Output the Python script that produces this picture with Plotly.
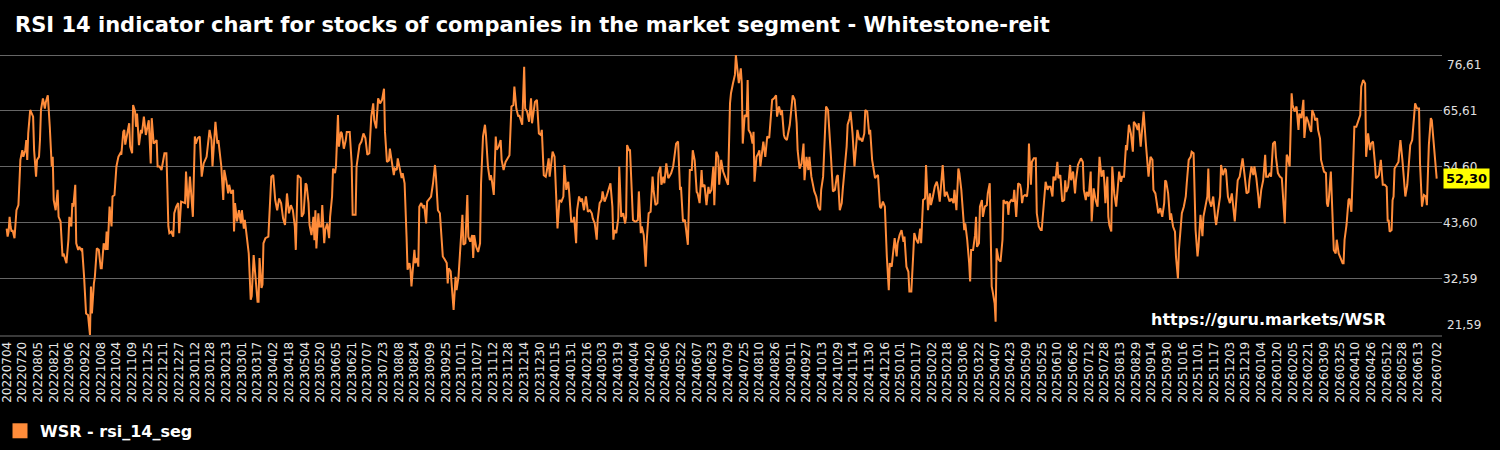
import pandas as pd
import plotly.graph_objects as go

start_date = "2022-07-04"
series_name = "WSR - rsi_14_seg"
title_text = "RSI 14 indicator chart for stocks of companies in the market segment - Whitestone-reit"
watermark = "https://guru.markets/WSR"

# days since start_date and RSI values
days_since_start = [
    0, 1, 2, 3, 4, 5, 6, 8, 10, 12, 13, 14, 16, 17, 19, 20, 21, 22, 24, 26, 27, 28, 30, 31, 33, 34, 35, 37, 39, 40,
    42, 44, 46, 47, 48, 50, 52, 53, 55, 57, 58, 61, 63, 64, 66, 67, 68, 70, 71, 73, 74, 76, 77, 79, 81, 83, 85, 86,
    87, 89, 90, 92, 94, 96, 97, 99, 101, 102, 103, 105, 107, 108, 110, 112, 114, 116, 117, 119, 120, 121, 123, 125,
    126, 128, 129, 131, 132, 133, 135, 137, 138, 140, 142, 143, 145, 147,
    148, 150, 153, 154, 156, 158, 159, 161, 163, 165, 166, 168, 170, 171, 173, 175, 176, 178, 182, 183, 185, 187,
    188, 190, 192, 193, 195, 197, 199, 201, 204, 207, 209, 210, 213, 215, 216, 219, 221, 222, 224, 226, 227, 229,
    231, 232, 233, 235, 237, 239, 240, 242, 243, 245, 247, 249, 250, 252, 254, 256, 257, 258, 260, 261, 262, 264,
    267, 268, 270, 272, 274, 276, 278, 280, 282, 284, 286, 288, 290, 292, 294, 295,
    297, 300, 301, 303, 305, 306, 308, 309, 311, 313, 314, 315, 316, 318, 319, 321, 322, 324, 325, 327, 329, 330,
    332, 333, 335, 336, 338, 339, 341, 342, 344, 346, 347, 350, 352, 353, 356, 357, 359, 360, 362, 364, 366, 368,
    370, 372, 374, 375, 377, 379, 381, 383, 385, 386, 388, 390, 391, 393, 395, 396, 398, 399, 401, 403, 404, 406,
    408, 409, 411, 412, 413, 415, 416, 417, 419, 420, 421, 423, 425, 426, 428, 429, 432, 433, 435, 437, 438, 440, 442,
    445, 447, 449, 450, 451, 453, 454, 456, 458, 459, 461, 463, 465, 466, 468, 470, 471, 473, 475, 476, 477, 479,
    481, 483, 484, 486, 488, 489, 491, 493, 494, 495, 497, 499, 500, 502, 504, 505, 507, 509, 511, 513, 515, 517,
    518, 520, 522, 523, 526, 528, 529, 531, 533, 535, 536, 538, 539, 541, 543, 545, 546, 548, 550, 551, 553, 554,
    556, 557, 559, 560, 562, 564, 566, 568, 569, 571, 573, 574, 576, 578, 579, 581, 582, 584, 586, 587, 589, 591,
    592, 593, 595, 597, 598, 600, 602, 603, 605, 607, 608, 610, 612, 614, 616, 618, 619, 620, 622, 624, 625, 627,
    629, 631, 632, 633, 635, 636, 638, 639, 641, 642, 644, 645, 647, 648, 650, 652, 653, 655, 657, 659, 660, 662,
    664, 665, 667, 668, 670, 671, 673, 675, 676, 678, 680, 682, 683, 685, 687, 688, 690, 692, 693, 695, 697, 699,
    700, 702, 704, 705, 707, 709, 710, 712, 714, 716, 717, 719, 721, 722, 724, 726, 727, 729, 731, 733, 734, 736,
    738, 739,
    741, 743, 744, 746, 747, 749, 750, 751, 753, 755, 756, 757, 759, 761, 762, 763, 765, 767, 768, 769, 771, 772,
    774, 776, 778, 779, 781, 783, 785, 786, 788, 790, 791, 793, 794, 796, 797, 799, 801, 802, 804, 806, 807, 809,
    811, 813, 814, 816, 818, 819, 821, 823, 824, 826, 828, 830, 831, 833, 835, 836, 838, 840, 841, 843, 845, 847,
    848, 850, 852, 853, 855, 857, 858, 860, 861, 863, 865, 866, 868, 870, 871, 873, 875, 876, 878, 880, 881, 883,
    885, 886,
    887, 889, 891, 892, 894, 896, 898, 899, 900, 901, 903, 904, 906, 908, 909, 911, 913, 915, 916, 918, 920, 921,
    923, 925, 926, 928, 930, 932, 933, 935, 937, 938, 940, 942, 943, 945, 947, 949, 950, 952, 954, 955, 957, 959,
    960, 962, 964, 966, 967, 969, 971, 972, 974, 976, 977, 978, 980, 982, 983, 984, 986, 988, 989, 990, 992, 993,
    995, 996, 998, 1000, 1001, 1003, 1005, 1006, 1008, 1009, 1010, 1012, 1014, 1016, 1017, 1019, 1021, 1022, 1023,
    1025, 1027, 1028, 1030, 1032, 1034, 1035,
    1036, 1037, 1039, 1041, 1042, 1043, 1045, 1046, 1048, 1050, 1051, 1053, 1055, 1056, 1058, 1060, 1062, 1063,
    1065, 1067, 1068, 1070, 1072, 1073, 1075, 1077, 1079, 1080, 1081, 1083, 1085, 1086, 1088, 1090, 1091, 1093,
    1096, 1098, 1099, 1101, 1102, 1104, 1106, 1107, 1109, 1111, 1113, 1114, 1115, 1117, 1119, 1120, 1121, 1123,
    1124, 1125, 1127, 1128, 1130, 1132, 1133, 1135, 1137, 1138, 1140, 1142, 1143, 1145, 1147, 1149, 1150, 1152,
    1154, 1155, 1157, 1159, 1160, 1162, 1164, 1165, 1167, 1169, 1170, 1172, 1174, 1175, 1177, 1179, 1181, 1182,
    1183, 1185, 1187, 1188, 1190, 1192, 1193, 1195, 1196, 1198, 1199, 1201, 1203, 1204, 1206, 1208, 1209, 1211,
    1213, 1215, 1216, 1218, 1220, 1221, 1223, 1225, 1226, 1227, 1229, 1231, 1233, 1234, 1236, 1238, 1239, 1241,
    1243, 1244, 1246, 1248, 1250, 1251, 1253, 1255, 1256, 1258, 1260, 1261, 1263, 1265, 1267, 1268, 1270, 1272,
    1273, 1275, 1277, 1278, 1280, 1282, 1284, 1285, 1287, 1289, 1290, 1292, 1294, 1295, 1297, 1299, 1301, 1302,
    1304, 1306, 1307, 1309, 1311, 1312, 1314, 1316, 1318, 1319, 1321, 1323, 1324, 1326, 1328, 1330, 1331,
    1332, 1334, 1335, 1337, 1338, 1340, 1341, 1342, 1344, 1346, 1347, 1348, 1349, 1351, 1352, 1354, 1356, 1357,
    1359, 1361, 1363, 1364, 1365, 1367, 1369, 1370, 1372, 1374, 1375, 1377, 1379, 1381, 1382, 1384, 1386, 1387,
    1389, 1391, 1392, 1394, 1396, 1397, 1399, 1400, 1402, 1403, 1404, 1406, 1408, 1409, 1410, 1411, 1413, 1414,
    1415, 1416, 1418, 1420, 1421, 1422, 1424, 1425, 1427, 1429, 1431, 1432, 1434, 1436, 1437, 1439, 1441, 1442,
    1444, 1446, 1448, 1449, 1451, 1453, 1454, 1456, 1459,
]

rsi_values = [
    42.5, 40.9, 41.9, 44.8, 42.9, 41.9, 42.2, 40.6, 46.1, 47.1, 51.4, 56.0, 57.9, 56.6, 57.9, 59.9, 56.0, 61.2, 65.8,
    64.8, 64.5, 57.9, 52.7, 56.0, 56.6, 59.9, 65.8, 68.1, 66.1, 67.4, 68.7, 62.5, 54.7, 56.6, 48.1, 46.1, 50.1,
    44.8, 43.9, 37.0, 37.6, 35.7, 40.3, 44.8, 42.9, 47.5, 46.8, 51.1, 39.6, 38.3, 38.9, 38.3, 38.6, 33.0, 25.8,
    25.5, 21.59, 31.1, 25.8, 31.7, 33.0, 38.6, 38.3, 34.7, 34.7, 39.6, 38.3, 41.9, 38.3, 46.8, 42.9, 48.8, 49.1,
    54.7, 56.6, 57.3, 57.0, 61.5, 61.9, 59.0, 60.9, 63.2, 58.6, 57.3, 66.8, 65.5, 62.5, 65.1, 58.9, 61.9, 61.2,
    64.5, 60.9, 61.9, 63.8, 55.3,
    64.2, 59.2, 59.9, 54.7, 54.7, 54.0, 55.0, 57.3, 57.3, 42.9, 41.6, 41.9, 40.9, 45.5, 46.8, 47.5, 41.6, 47.8,
    47.5, 53.7, 46.5, 52.7, 50.1, 44.8, 60.6, 59.2, 60.3, 60.6, 52.7, 55.3, 56.6, 61.9, 59.9, 54.7, 63.5, 59.2,
    59.9, 54.7, 48.1, 54.0, 52.0, 49.4, 51.1, 49.4, 50.1, 41.9, 47.5, 43.9, 46.1, 43.5, 46.1, 42.5, 44.2, 40.3,
    37.6, 28.5, 29.2, 37.3, 33.0, 28.1, 28.1, 36.7, 30.8, 31.5, 39.6, 40.6, 40.9, 46.1, 52.7, 53.0, 48.1, 46.1,
    48.4, 47.5, 44.5, 43.2, 49.4, 45.5, 47.1, 46.1, 42.9, 38.3,
    53.0, 52.4, 44.8, 45.5, 51.4, 51.1, 47.5, 43.2, 41.2, 44.8, 40.2, 46.1, 38.6, 45.5, 42.9, 42.9, 47.1, 39.6,
    42.2, 43.5, 40.6, 44.8, 48.8, 54.3, 53.4, 54.7, 64.8, 58.6, 61.5, 61.2, 58.2, 59.9, 61.5, 61.5, 55.3, 45.2,
    45.2, 54.7, 57.3, 58.9, 59.6, 61.2, 60.3, 57.0, 57.3, 64.5, 67.1, 63.8, 62.2, 68.1, 67.1, 67.8, 70.0, 61.5,
    55.6, 55.9, 58.2, 55.9, 53.0, 54.3, 54.0, 56.3, 54.0, 52.4, 53.4, 51.4, 40.9, 34.4, 35.7, 34.4, 31.1, 35.0,
    38.3, 35.7, 36.7, 35.0, 46.8, 47.5, 46.5, 47.1, 43.5, 47.8, 48.4, 48.8, 51.4, 55.0, 52.7, 46.1, 45.5,
    37.0, 36.4, 35.7, 31.7, 34.7, 34.1, 31.7, 26.5, 33.0, 30.4, 33.0, 38.9, 45.2, 39.3, 39.6, 49.1, 40.9, 39.9,
    41.2, 36.7, 41.2, 38.9, 37.9, 39.6, 51.4, 60.6, 62.9, 60.9, 54.7, 52.0, 53.0, 52.0, 49.1, 60.6, 58.0, 58.6,
    59.9, 56.0, 54.0, 55.6, 56.3, 56.9, 66.5, 66.8, 70.4, 66.1, 64.5, 64.8, 62.9, 74.3, 66.1, 65.5, 63.5, 68.1,
    63.2, 65.8, 67.4, 67.8, 61.2, 60.9, 61.9, 53.0, 52.7, 53.7, 56.3, 52.7, 55.6, 57.6, 56.6, 52.7, 42.5, 48.1,
    47.8, 48.8, 55.0, 50.1, 51.7, 49.4, 43.9, 43.9, 44.8, 39.6, 46.1, 48.8, 47.8, 48.4, 46.1, 48.8,
    47.1, 45.8, 46.1, 45.5, 44.5, 43.5, 40.3, 44.2, 47.5, 48.1, 49.8, 47.8, 48.8, 50.4, 51.4, 46.8, 40.3, 42.2,
    41.6, 44.5, 54.7, 44.8, 45.5, 43.5, 44.8, 58.9, 57.9, 57.9, 50.1, 44.2, 43.9, 43.9, 44.2, 49.8, 41.6, 42.9,
    41.2, 35.0, 40.0, 45.5, 45.8, 52.7, 50.1, 47.1, 47.5, 53.4, 54.7, 51.1, 52.7, 51.4, 55.3, 52.4, 52.7, 53.4,
    54.7, 57.9, 59.2, 59.6, 50.1, 50.7, 43.9, 44.2, 42.2, 39.3, 54.0, 54.0, 57.9, 55.9, 49.7, 49.4, 47.5, 54.0,
    50.7, 51.1, 47.1, 50.7, 49.4, 50.1, 54.7, 47.1, 57.6, 56.6, 51.1, 56.0, 53.7, 52.7, 52.4, 51.1, 67.1, 69.1,
    71.0, 72.7, 76.61, 72.1, 71.1, 74.0, 71.1, 59.2, 64.8, 64.5, 71.7, 61.9, 61.2, 59.2, 61.5, 51.7, 56.6, 57.3,
    57.9, 54.7, 58.6, 59.6, 56.6, 60.6, 60.3, 63.2, 67.8, 68.1, 68.7, 64.5, 66.5, 64.8, 65.8, 60.9, 60.3, 59.9,
    61.2, 62.9, 66.8, 68.7, 67.8, 63.2, 57.9, 54.3, 55.3, 59.2, 52.0, 56.6, 54.0, 56.6, 52.7, 50.4, 49.8, 48.8,
    46.8, 46.1, 50.1, 52.7, 61.2, 66.5, 65.8, 57.9, 56.6, 49.8, 50.1, 52.7, 53.0, 46.1, 47.5, 50.1, 54.7, 58.6,
    62.9, 64.2, 65.5, 61.2, 54.7, 57.9, 61.9, 59.9, 60.3, 59.6, 61.2, 65.8, 65.5, 61.0, 61.9, 56.0, 53.4, 52.4,
    52.7, 53.0, 46.8, 46.5, 47.8, 46.8, 37.0, 32.4, 30.4, 35.7, 35.0, 37.0, 40.6, 37.0, 39.6, 41.2, 42.2, 39.9,
    40.9, 35.0, 34.0, 30.1, 30.1, 37.6, 41.6, 40.3, 39.6, 42.5, 39.6, 48.1, 48.4, 55.0, 46.1, 49.4, 47.1, 48.8,
    50.8, 51.7, 50.8, 47.8, 52.4, 55.0, 48.8, 49.7, 49.1, 47.8, 48.4, 47.5, 50.1, 46.1, 54.3, 53.4, 50.1, 45.5,
    42.2, 43.5, 40.3, 35.7, 32.1, 38.3, 38.3, 41.2, 44.8, 38.9, 39.6, 46.8, 48.1, 44.8, 46.8, 47.1, 49.4, 51.4,
    31.1, 30.1, 27.8, 24.2, 38.6, 36.4, 36.0, 40.3, 48.1, 47.5, 47.8, 45.2, 47.5, 48.1, 47.8, 50.1, 44.8, 51.4,
    51.1, 50.1,
    47.5, 48.8, 49.1, 48.8, 50.7, 59.2, 51.1, 55.6, 56.3, 56.3, 45.5, 42.9, 42.2, 42.2, 47.5, 51.7, 50.1, 50.7,
    50.7, 48.8, 52.7, 52.0, 55.6, 52.4, 53.0, 47.8, 48.1, 52.0, 49.7, 50.7, 55.0, 52.0, 53.7, 49.4, 52.0, 55.0,
    56.3, 55.6, 50.1, 48.1, 49.7, 48.8, 53.7, 43.9, 50.4, 48.1, 46.8, 54.7, 56.6, 52.7, 54.0, 51.4, 47.5, 52.7,
    44.8, 43.2, 41.9, 54.7, 49.4, 46.8, 48.8, 53.7, 51.7, 52.7, 52.7, 58.9, 57.9, 62.9, 61.2, 57.6, 63.5, 62.9,
    61.9, 63.2, 58.6, 64.5, 65.5, 59.9, 54.0, 52.7, 56.6, 56.0, 50.1, 49.4, 46.8, 45.5, 46.5, 44.8, 47.5, 52.0,
    51.7, 49.4, 44.2, 45.5, 42.9, 41.9, 37.0, 32.7, 38.3, 42.9, 45.5, 46.8, 48.8, 51.4, 56.0, 56.6, 57.6, 57.3,
    42.2, 37.0, 39.0, 45.2, 41.0, 44.8, 46.8, 48.8, 54.3, 48.1, 46.8, 48.8, 44.5, 43.2, 46.1, 48.8, 55.0, 53.0,
    54.3, 54.0, 48.8, 47.5, 49.4, 47.5, 43.9, 49.4, 52.0, 52.7, 55.0, 56.3, 53.0, 49.4, 49.7, 52.0, 54.7, 53.0,
    54.7, 52.4, 48.8, 46.5, 50.1, 52.0, 57.0, 52.7, 52.7, 53.4, 52.7, 59.2, 59.6, 56.6, 53.4, 52.7, 52.4, 49.4,
    43.5, 57.0, 56.6, 54.7, 69.1, 66.8, 65.5, 66.5, 61.9, 65.1, 64.2, 67.8, 60.3, 64.5, 63.5, 61.9, 61.5,
    65.8, 64.8, 63.8, 64.2, 61.9, 60.2, 56.0, 55.0, 53.7, 53.4, 47.5, 46.8, 48.4, 53.7, 48.8, 38.3, 37.6, 40.3,
    37.6, 36.7, 35.7, 35.7, 40.3, 43.2, 48.1, 48.4, 45.8, 56.6, 62.5, 62.5, 63.8, 64.8, 70.4, 71.7, 71.0, 56.6,
    61.2, 57.9, 59.2, 59.6, 55.3, 52.4, 52.7, 53.0, 56.0, 52.4, 51.1, 51.1, 50.7, 43.9, 44.2, 41.9, 42.2, 48.1,
    48.8, 54.3, 55.0, 55.6, 57.9, 59.9, 56.0, 53.4, 48.8, 51.1, 56.0, 58.9, 59.9, 63.8, 67.1, 66.1, 66.1, 55.3,
    46.8, 49.1, 48.8, 47.1, 58.9, 64.2, 63.8, 59.2, 52.30,
]

y_tick_values = [21.59, 32.59, 43.60, 54.60, 65.61, 76.61]
tick_step_days = 16

line_color = "#FF8C3A"

dates = pd.Timestamp(start_date) + pd.to_timedelta(days_since_start, unit="D")
last_day = days_since_start[-1]
end_date = dates[-1]

tick_offsets = [d for d in range(0, last_day + 1, tick_step_days) if d <= last_day - 8] + [last_day]
tick_dates = pd.Timestamp(start_date) + pd.to_timedelta(tick_offsets, unit="D")
tick_text = [d.strftime("%Y%m%d") for d in tick_dates]

fig = go.Figure()
fig.add_trace(go.Scatter(
    x=dates, y=rsi_values, mode="lines",
    line=dict(color=line_color, width=2),
    name=series_name, showlegend=False,
))
fig.add_trace(go.Scatter(
    x=[None], y=[None], mode="markers",
    marker=dict(symbol="square", size=15, color=line_color),
    name=series_name, showlegend=True,
))

x_range = [pd.Timestamp(start_date) - pd.Timedelta(hours=163), end_date + pd.Timedelta(hours=130)]
y_min, y_max = min(y_tick_values), max(y_tick_values)

fig.update_layout(
    width=1500, height=450,
    paper_bgcolor="black", plot_bgcolor="black",
    margin=dict(l=0, r=58, t=53, b=115),
    separators=",.",
    font=dict(family="DejaVu Sans", color="#e8e8e8", size=12),
    title=dict(
        text=title_text, x=0.01, xref="container", xanchor="left",
        y=1 - 25 / 450, yref="container", yanchor="middle",
        font=dict(family="DejaVu Sans", size=21, color="white", weight="bold"),
    ),
    showlegend=True,
    legend=dict(
        orientation="h", x=0, xanchor="left", y=-0.34, yanchor="middle",
        font=dict(family="DejaVu Sans", size=16, color="white", weight="bold"),
        bgcolor="rgba(0,0,0,0)",
    ),
    xaxis=dict(
        type="date", range=x_range, tickmode="array",
        tickvals=list(tick_dates), ticktext=tick_text, tickangle=-90,
        ticklabeloverflow="allow",
        showgrid=False, zeroline=False, showline=True, linecolor="#3a3a3a", linewidth=2,
        tickfont=dict(size=12, color="#e8e8e8"), ticks="",
    ),
    yaxis=dict(
        side="right", range=[y_min - 0.02, y_max + 0.4], tickmode="array",
        tickvals=y_tick_values,
        ticktext=["" if v in (y_min, y_max) else f"{v:.2f}".replace(".", ",") for v in y_tick_values],
        showgrid=True, gridcolor="#666666", gridwidth=1, zeroline=False,
        tickfont=dict(size=12, color="#e0e0e0"), ticks="",
    ),
)

# edge tick labels drawn inward as in the reference
for v, shift in ((y_max, -10), (y_min, 10)):
    fig.add_annotation(
        x=1, xref="paper", xanchor="left", xshift=3, y=v, yref="y", yshift=shift,
        text=f"{v:.2f}".replace(".", ","), showarrow=False,
        font=dict(family="DejaVu Sans", size=12, color="#e0e0e0"),
    )

fig.add_annotation(
    x=1, xref="paper", xanchor="left", xshift=1, y=rsi_values[-1], yref="y",
    text="<b>" + f"{rsi_values[-1]:.2f}".replace(".", ",") + "</b>", showarrow=False,
    bgcolor="#FFFF00", borderpad=2,
    font=dict(family="DejaVu Sans", size=13, color="black"),
)

fig.add_annotation(
    x=1388 / 1442, xref="paper", xanchor="right", y=0.054, yref="paper", yanchor="middle",
    text="<b>" + watermark + "</b>", showarrow=False,
    font=dict(family="DejaVu Sans", size=16, color="white"),
)

fig.write_html("out.html")
